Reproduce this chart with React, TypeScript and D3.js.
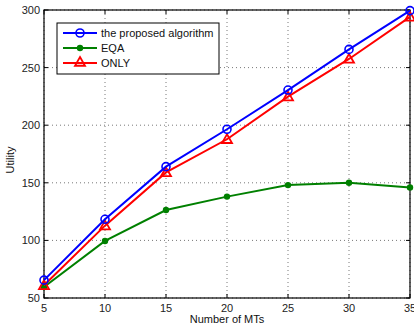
import React from "react";
import * as d3 from "d3";

const xValues = [5, 10, 15, 20, 25, 30, 35];
const proposed = [65.5, 118.3, 164, 196.5, 230.5, 265.8, 299.5];
const eqa = [59.5, 99.5, 126.4, 138, 148, 150, 146];
const only = [61, 112.8, 159, 187.8, 224.8, 257.5, 294];
const xTicks = [5, 10, 15, 20, 25, 30, 35];
const yTicks = [50, 100, 150, 200, 250, 300];
const legendLabels = ["the proposed algorithm", "EQA", "ONLY"];

const W = 414, H = 329;
const L = 44, R = 410, T = 10, B = 298;
const font = "'Liberation Sans', Arial, Helvetica, sans-serif";

export default function App() {
  const x = d3.scaleLinear().domain([5, 35]).range([L, R]);
  const y = d3.scaleLinear().domain([50, 300]).range([B, T]);
  const line = d3.line<number>().x((_, i) => x(xValues[i])).y((d) => y(d));
  const tri = (cx: number, cy: number, s = 5) =>
    `M${cx},${cy - s}L${cx + s},${cy + s * 0.75}L${cx - s},${cy + s * 0.75}Z`;

  return (
    <svg width={W} height={H} style={{ position: "absolute", left: 0, top: 0 }}>
      <rect x={0} y={0} width={W} height={H} fill="#fff" />
      {/* grid */}
      {xTicks.map((t) => (
        <line key={"gx" + t} x1={x(t)} x2={x(t)} y1={T} y2={B} stroke="#555" strokeWidth={0.8} strokeDasharray="1,3" />
      ))}
      {yTicks.map((t) => (
        <line key={"gy" + t} x1={L} x2={R} y1={y(t)} y2={y(t)} stroke="#555" strokeWidth={0.8} strokeDasharray="1,3" />
      ))}
      {/* ticks */}
      {xTicks.map((t) => (
        <g key={"tx" + t}>
          <line x1={x(t)} x2={x(t)} y1={B} y2={B - 4} stroke="#000" />
          <line x1={x(t)} x2={x(t)} y1={T} y2={T + 4} stroke="#000" />
          <text x={x(t)} y={B + 14} textAnchor="middle" fontSize={11} fontFamily={font} fill="#222">{t}</text>
        </g>
      ))}
      {yTicks.map((t) => (
        <g key={"ty" + t}>
          <line x1={L} x2={L + 4} y1={y(t)} y2={y(t)} stroke="#000" />
          <line x1={R} x2={R - 4} y1={y(t)} y2={y(t)} stroke="#000" />
          <text x={L - 4} y={y(t) + 4} textAnchor="end" fontSize={11} fontFamily={font} fill="#222">{t}</text>
        </g>
      ))}
      <rect x={L} y={T} width={R - L} height={B - T} fill="none" stroke="#000" strokeWidth={1.2} />
      {/* series */}
      <path d={line(eqa) || ""} fill="none" stroke="#008000" strokeWidth={2} />
      {eqa.map((v, i) => (
        <circle key={"e" + i} cx={x(xValues[i])} cy={y(v)} r={3.2} fill="#008000" />
      ))}
      <path d={line(only) || ""} fill="none" stroke="#ff0000" strokeWidth={2} />
      {only.map((v, i) => (
        <path key={"o" + i} d={tri(x(xValues[i]), y(v))} fill="none" stroke="#ff0000" strokeWidth={1.8} />
      ))}
      <path d={line(proposed) || ""} fill="none" stroke="#0000ff" strokeWidth={2} />
      {proposed.map((v, i) => (
        <circle key={"p" + i} cx={x(xValues[i])} cy={y(v)} r={4} fill="none" stroke="#0000ff" strokeWidth={1.6} />
      ))}
      {/* legend */}
      <rect x={57} y={23} width={162} height={51} fill="#fff" stroke="#000" strokeWidth={1} />
      {[0, 1, 2].map((i) => {
        const ly = 33 + i * 15;
        const col = ["#0000ff", "#008000", "#ff0000"][i];
        return (
          <g key={"l" + i}>
            <line x1={63} x2={97} y1={ly} y2={ly} stroke={col} strokeWidth={2} />
            {i === 0 && <circle cx={80} cy={ly} r={4} fill="none" stroke={col} strokeWidth={1.6} />}
            {i === 1 && <circle cx={80} cy={ly} r={3.2} fill={col} />}
            {i === 2 && <path d={tri(80, ly - 1)} fill="none" stroke={col} strokeWidth={1.8} />}
            <text x={101} y={ly + 4} fontSize={11} fontFamily={font} fill="#111">{legendLabels[i]}</text>
          </g>
        );
      })}
      {/* axis labels */}
      <text x={(L + R) / 2} y={323} textAnchor="middle" fontSize={11} fontFamily={font} fill="#111">Number of MTs</text>
      <text transform={`translate(14,160) rotate(-90)`} textAnchor="middle" fontSize={11} fontFamily={font} fill="#111">Utility</text>
    </svg>
  );
}
